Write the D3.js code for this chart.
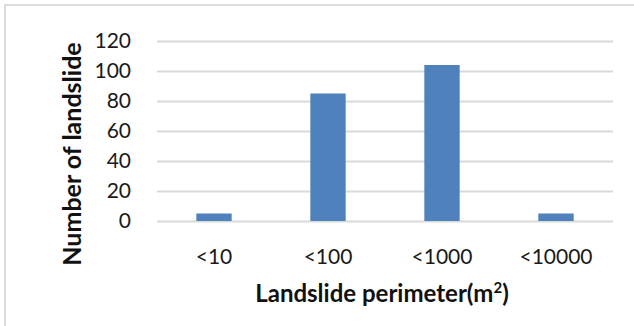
<!DOCTYPE html>
<html>
<head>
<meta charset="utf-8">
<script src="https://cdn.jsdelivr.net/npm/d3@7"></script>
<style>
  html, body { margin: 0; padding: 0; background: #fff; }
  svg { display: block; }
</style>
</head>
<body>
<svg id="chart" width="634" height="326"></svg>
<script>
// Landslide counts per perimeter class
const categories = ["<10", "<100", "<1000", "<10000"];
const counts = [5, 85, 104, 5];
const yTicks = [0, 20, 40, 60, 80, 100, 120];

const W = 634, H = 326;
const margin = { top: 41, right: 21, bottom: 105, left: 157 };
const innerW = W - margin.left - margin.right;
const innerH = H - margin.top - margin.bottom;

const svg = d3.select("#chart");

// outer frame
svg.append("rect")
  .attr("x", 5).attr("y", 5)
  .attr("width", W + 10).attr("height", H + 10)
  .attr("fill", "none")
  .attr("stroke", "#dcdcdc")
  .attr("stroke-width", 2);

const g = svg.append("g").attr("transform", `translate(${margin.left},${margin.top})`);

const x = d3.scaleBand().domain(categories).range([0, innerW]).paddingInner(0.69).paddingOuter(0.345);
const y = d3.scaleLinear().domain([0, 120]).range([innerH, 0]);

// horizontal gridlines
const yAxis = d3.axisLeft(y).tickValues(yTicks).tickSize(-innerW).tickPadding(26);
const ya = g.append("g").call(yAxis);
ya.select(".domain").remove();
ya.selectAll(".tick line").attr("stroke", "#d9d9d9").attr("stroke-width", 2);
ya.selectAll(".tick text")
  .attr("font-family", "Lato, 'Open Sans', sans-serif")
  .attr("font-size", 21)
  .attr("fill", "#1a1a1a");

// bars
g.selectAll("rect.bar")
  .data(counts)
  .join("rect")
  .attr("class", "bar")
  .attr("x", (d, i) => x(categories[i]))
  .attr("y", d => y(d))
  .attr("width", x.bandwidth())
  .attr("height", d => y(0) - y(d))
  .attr("fill", "#4f81bd");

// category labels
const xAxis = d3.axisBottom(x).tickSize(0).tickPadding(28);
const xa = g.append("g").attr("transform", `translate(0,${innerH})`).call(xAxis);
xa.select(".domain").remove();
xa.selectAll(".tick text")
  .attr("font-family", "Lato, 'Open Sans', sans-serif")
  .attr("font-size", 21)
  .attr("fill", "#1a1a1a");

// axis titles
const xt = svg.append("text")
  .attr("x", 382)
  .attr("y", 302)
  .attr("text-anchor", "middle")
  .attr("font-family", "Lato, 'Open Sans', sans-serif")
  .attr("font-weight", "bold")
  .attr("font-size", 24)
  .attr("fill", "#111");
xt.append("tspan").text("Landslide perimeter(m");
xt.append("tspan").attr("dy", -9).attr("font-size", 15).text("2");
xt.append("tspan").attr("dy", 9).text(")");

svg.append("text")
  .attr("transform", `translate(81,154) rotate(-90)`)
  .attr("text-anchor", "middle")
  .attr("font-family", "Lato, 'Open Sans', sans-serif")
  .attr("font-weight", "bold")
  .attr("font-size", 25)
  .attr("fill", "#111")
  .text("Number of landslide");
</script>
</body>
</html>
